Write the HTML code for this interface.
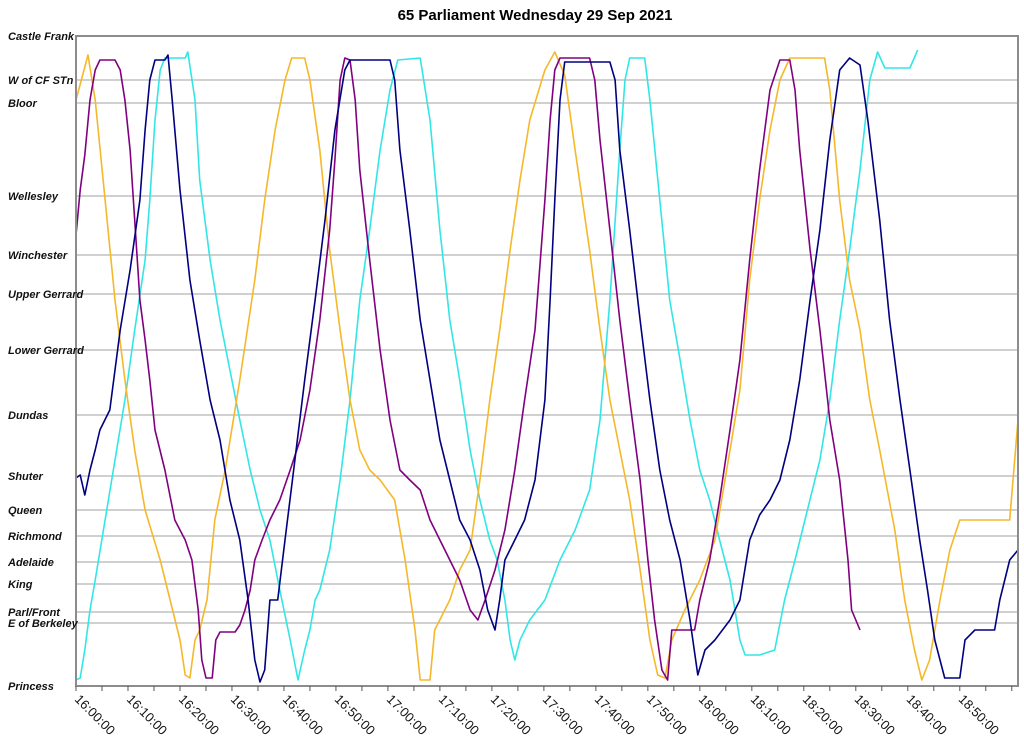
<!DOCTYPE html>
<html><head><meta charset="utf-8"><style>
html,body{margin:0;padding:0;background:#fff;}
svg{display:block;}
</style></head><body>
<svg id="chart" width="1024" height="747" xmlns="http://www.w3.org/2000/svg" font-family="Liberation Sans, sans-serif">
<text x="535" y="20" text-anchor="middle" font-size="15" font-weight="bold">65 Parliament Wednesday 29 Sep 2021</text>
<g id="grid"></g><g id="series"></g><g id="axes"></g>
</svg>
<script>
const stationNames=["Castle Frank","W of CF STn","Bloor","Wellesley","Winchester","Upper Gerrard","Lower Gerrard","Dundas","Shuter","Queen","Richmond","Adelaide","King","Parl/Front","E of Berkeley","Princess"];
const stationPos=[650,606,583,490,431,392,336,271,210,176,150,124,102,74,63,0];
const tickLabels=["16:00:00","16:10:00","16:20:00","16:30:00","16:40:00","16:50:00","17:00:00","17:10:00","17:20:00","17:30:00","17:40:00","17:50:00","18:00:00","18:10:00","18:20:00","18:30:00","18:40:00","18:50:00"];
const tickMinutes=[0,10,20,30,40,50,60,70,80,90,100,110,120,130,140,150,160,170];
const yellowT=[0,2.3,3.7,5.6,7.5,9.4,11.3,13.3,16.2,18.1,20,21,21.9,22.9,23.8,25.2,26.7,28.7,31.5,34.4,36.3,38.3,40.2,41.5,44,45,46.9,48.8,50.8,52.7,54.6,56.5,58.5,61.3,63.3,65.2,66.2,68.1,69,71.9,73.8,75.8,77.7,79.6,81.5,83.5,85.4,87.3,90.2,92.1,94,96,98.8,100.8,102.7,104.6,106.5,108.5,110.4,111.9,113.3,114.6,117.1,120,122.9,125.8,127.7,129.6,131.5,133.5,135.4,137.3,144,145,146.9,148.8,150.8,152.7,154.6,157.5,159.4,161.3,162.7,164.2,166.2,168.1,170,179.6,181.2];
const yellowV=[586,631,586,486,386,306,236,176,126,86,46,11,8,46,56,86,166,216,306,406,486,556,606,628,628,606,536,436,356,286,236,216,206,186,126,56,6,6,56,86,116,136,206,286,356,436,506,566,616,634,611,536,436,356,286,236,186,116,46,11,8,46,76,106,146,236,296,406,486,556,606,628,628,596,486,406,356,286,236,156,86,36,6,26,86,136,166,166,266];
const purpleT=[0,0.8,1.7,2.7,3.7,4.6,7.5,8.5,9.4,10.4,11.3,12.3,13.3,14.2,15.2,17.1,19,21,22.3,23.5,24.2,25,26.2,26.9,27.7,30.6,31.5,32.5,33.5,34.4,35.8,37.3,39.2,41.2,43.1,45,46.9,48.8,49.8,50.8,51.7,52.7,53.7,54.6,56.5,58.5,60.4,62.3,64.2,66.2,68.1,70,71.9,73.8,75.8,77.3,78.7,80.6,82.5,84.4,86.3,88.3,90.2,91.2,92.1,93.1,98.8,99.8,100.8,102.7,104.6,106.5,108.5,110,111.3,112.7,113.8,114.6,116.2,119,120,121.9,123.8,125.8,127.7,129.6,131.5,133.5,135.4,137.3,138.3,139.2,141.2,143.1,145,146.9,148.5,149.2,150.8];
const purpleV=[451,496,531,586,616,626,626,616,586,536,466,386,346,306,256,216,166,146,126,76,26,8,8,46,54,54,61,76,96,126,146,166,186,216,246,296,366,456,526,606,628,626,586,516,426,336,266,216,206,196,166,146,126,106,76,66,86,116,156,216,286,356,486,566,616,628,628,606,546,456,366,286,206,126,66,16,6,56,56,56,86,126,186,256,326,426,516,596,626,626,596,536,436,356,266,206,126,76,56];
const navyT=[0,0.8,1.7,2.7,3.7,4.6,6.5,8.5,10.4,12.3,13.3,14.2,15.2,17.1,17.7,18.5,20,21.9,23.8,25.8,27.7,29.6,31.5,33.1,34.4,35.4,36.3,37.3,38.8,40.2,42.1,44,46,47.9,49.8,51.7,52.7,60.4,61.3,62.3,64.2,66.2,68.1,70,71.9,73.8,75.8,77.7,79.2,80.6,81.5,82.5,84.4,86.3,88.3,90.2,91.2,92.1,93.1,94,102.7,103.7,104.6,106.5,108.5,110.4,112.3,114.2,116.2,118.1,119.6,121,122.9,125.8,127.7,129.6,131.5,133.5,135.4,137.3,139.2,141.2,143.1,145,146.9,148.8,150.8,152.3,154.6,156.5,158.5,160.4,162.3,163.8,165.2,167.1,170,171,172.9,176.7,177.7,179.6,181.2];
const navyV=[208,211,191,216,236,256,276,356,416,486,556,606,626,626,631,586,496,406,346,286,246,186,146,86,26,4,16,86,86,146,226,306,386,466,556,616,626,626,606,536,456,366,306,246,206,166,146,116,76,56,86,126,146,166,206,286,386,486,586,624,624,606,536,456,366,286,216,166,126,66,11,36,46,66,86,146,171,186,206,246,306,386,456,546,616,628,621,566,466,366,286,216,146,96,46,8,8,46,56,56,86,126,136];
const cyanT=[0,0.8,1.7,2.7,3.7,5.6,7.5,9.4,11.3,13.3,14.2,15.2,16.2,17.1,21,21.5,22.9,23.8,25.8,27.7,29.6,31.5,33.5,35.4,37.3,39.2,41.2,42.7,44,45,46,46.9,48.8,50.8,52.7,54.6,56.5,58.5,60.4,61.9,66.2,68.1,70,71.9,73.8,75.8,77.7,79.6,81,82.5,83.5,84.4,85.4,87.3,90.2,93.1,96,98.8,100.8,102.7,104.6,105.6,106.5,109.4,110.4,112.3,114.2,116.2,118.1,120,121.9,123.8,125.8,127.7,128.7,131.5,134.4,136.3,138.3,140.2,143.1,145,146.9,148.8,150.8,152.7,154.2,155.6,160.4,161.9];
const cyanV=[6,8,36,76,106,166,226,286,356,426,486,566,616,628,628,634,586,506,426,366,316,266,216,176,146,96,46,6,36,56,86,96,136,206,286,386,456,536,596,626,628,566,456,366,306,236,186,146,126,86,46,26,46,66,86,126,156,196,266,386,536,606,628,628,586,486,386,326,266,216,186,146,106,46,31,31,36,86,126,166,226,286,366,436,516,606,634,618,618,636];

const X0=76,X1=1018,Y0=36,Y1=686,TMAX=181.2,VMAX=650;
const xs=t=>X0+t/TMAX*(X1-X0);
const ys=v=>Y1-v/VMAX*(Y1-Y0);
const NS="http://www.w3.org/2000/svg";
function mk(tag,attrs,parent){const e=document.createElementNS(NS,tag);for(const k in attrs)e.setAttribute(k,attrs[k]);parent.appendChild(e);return e;}
const grid=document.getElementById('grid'),axes=document.getElementById('axes'),ser=document.getElementById('series');
mk('rect',{x:X0,y:Y0,width:X1-X0,height:Y1-Y0,fill:'none',stroke:'#8c8c8c','stroke-width':2},axes);
stationNames.forEach((n,i)=>{
  const y=ys(stationPos[i]);
  if(stationPos[i]>0&&stationPos[i]<VMAX){
    const l=mk('line',{x1:X0,x2:X1,y1:y,y2:y,stroke:'#a0a0a0','stroke-width':1},grid);
    
    
  }
  const t=mk('text',{x:8,y:y+4,'font-size':11,'font-weight':'bold','font-style':'italic',fill:'#111'},axes);
  t.textContent=n;
  
  
});
for(let m=0;m<=180;m+=5){
  const x=xs(m);
  const tk=mk('line',{x1:x,x2:x,y1:Y1,y2:Y1+5,stroke:'#555','stroke-width':1},axes);
  
  
}
tickLabels.forEach((s,i)=>{
  const x=xs(tickMinutes[i]);
  const t=mk('text',{x:x-2,y:Y1+14,'font-size':13,fill:'#111',transform:`rotate(45 ${x-2} ${Y1+14})`},axes);
  t.textContent=s;
  
  
});
function line(T,V,color,name){
  const d=T.map((t,i)=>(i?'L':'M')+xs(t).toFixed(1)+','+ys(V[i]).toFixed(1)).join('');
  const p=mk('path',{d:d,fill:'none',stroke:color,'stroke-width':1.6,'stroke-linejoin':'round'},ser);
  
  
}
line(cyanT,cyanV,'#33e6e6','series-cyan');
line(yellowT,yellowV,'#f5b82a','series-yellow');
line(purpleT,purpleV,'#800080','series-purple');
line(navyT,navyV,'#000080','series-navy');
</script>
</body></html>
